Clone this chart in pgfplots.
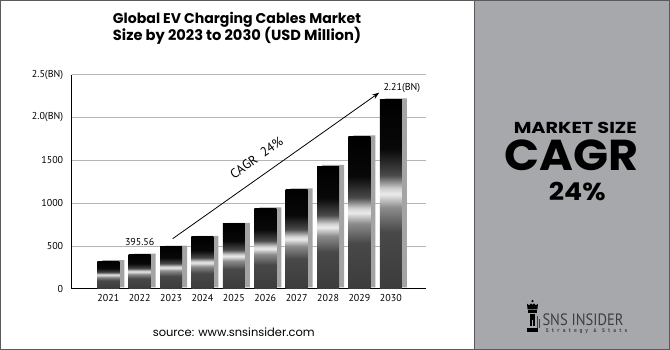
\documentclass[border=0pt]{standalone}
\usepackage{fontspec}
\usepackage{graphicx}
\usepackage{pgfplots}
\pgfplotsset{compat=1.18}
\usetikzlibrary{arrows.meta}
\setmainfont{PT Sans}
\newfontfamily\pop{Poppins}
\newfontfamily\mono{Liberation Mono}
\definecolor{panel}{HTML}{A7A8AB}
\definecolor{shadowc}{HTML}{A3A4A6}
\definecolor{gridc}{HTML}{B4B4B4}
\definecolor{frame}{HTML}{5A5A5A}
\definecolor{logoc}{HTML}{3E3E3E}
\definecolor{s1}{HTML}{3C3C3C}
\definecolor{s2}{HTML}{484848}
\definecolor{s3}{HTML}{8C8C8C}
\definecolor{s4}{HTML}{EBEBEB}
\definecolor{s5}{HTML}{D0D0D0}
\definecolor{s6}{HTML}{4A4A4A}
\definecolor{s7}{HTML}{080808}
\pgfdeclareverticalshading{barshade}{100bp}{color(0bp)=(s1); color(25bp)=(s1); color(40bp)=(s2); color(46.5bp)=(s3); color(50bp)=(s4); color(51.5bp)=(s5); color(55bp)=(s6); color(62bp)=(s7); color(75bp)=(black); color(100bp)=(black)}
\pgfplotsset{face/.style={ybar, bar width=22pt, bar shift=0pt, shading=barshade, draw=none}}
\begin{document}
\begin{tikzpicture}[x=1pt,y=1pt]
\useasboundingbox (0,0) rectangle (670,350);
\fill[white] (0,0) rectangle (670,350);
\fill[panel] (474.3,0) rectangle (670,350);
\draw[frame, line width=1pt] (474.3,0) -- (474.3,350);
\draw[frame, line width=1.4pt] (0.7,0.7) rectangle (669.3,349.3);
% title
\node at (237,330) {\resizebox{248pt}{!}{\pop\bfseries Global EV Charging Cables Market}};
\node at (237,313.8) {\resizebox{248pt}{!}{\pop\bfseries Size by 2023 to 2030 (USD Million)}};
% source
\node at (233.8,17.7) {\resizebox{162pt}{!}{\pop source: www.snsinsider.com}};
\begin{axis}[
  at={(71.7pt,61.3pt)}, anchor=south west,
  scale only axis, width=354.3pt, height=214pt,
  xmin=-1.166, xmax=10.12, ymin=0, ymax=2500,
  axis x line*=bottom, axis y line*=left,
  x axis line style={-}, y axis line style={-},
  axis line style={black, line width=0.9pt},
  xtick={0,...,9},
  xticklabels={2021,2022,2023,2024,2025,2026,2027,2028,2029,2030},
  ytick={0,500,1000,1500,2000,2500},
  yticklabels={0,500,1000,1500,2.0(BN),2.5(BN)},
  ymajorgrids, grid style={gridc, line width=0.7pt},
  major tick length=0pt, tick style={draw=none},
  /pgf/number format/assume math mode=true,
  ticklabel style={font=\fontsize{10}{12}\selectfont},
  yticklabel style={xshift=-5pt},
  xticklabel style={yshift=-2pt},
  clip=false,
]
\addplot[ybar, bar width=22pt, bar shift=5pt, fill=shadowc, draw=none, yshift=1.2pt]
  coordinates {(0,320) (1,395.56) (2,490) (3,604) (4,756) (5,935) (6,1157) (7,1433) (8,1776) (9,2210)};
\addplot[face] coordinates {(0,320)};
\addplot[face] coordinates {(1,395.56)};
\addplot[face] coordinates {(2,490)};
\addplot[face] coordinates {(3,604)};
\addplot[face] coordinates {(4,756)};
\addplot[face] coordinates {(5,935)};
\addplot[face] coordinates {(6,1157)};
\addplot[face] coordinates {(7,1433)};
\addplot[face] coordinates {(8,1776)};
\addplot[face] coordinates {(9,2210)};
\node[font=\fontsize{10}{12}\selectfont] at (axis cs:1,395.56) [yshift=13pt] {395.56};
\node[font=\fontsize{10}{12}\selectfont] at (axis cs:9,2210) [xshift=11pt, yshift=11pt] {2.21(BN)};
\draw[-{Stealth[length=7pt,width=5pt]}, line width=0.8pt] (axis cs:2.05,584) -- (axis cs:8.63,2290);
\node[rotate=35.2, font=\fontsize{13}{15}\selectfont] at (axis cs:4.72,1530) {CAGR\ \ 24\%};
\end{axis}
% right panel text
\node at (575.3,221.7) {\resizebox{123pt}{11.3pt}{\pop\bfseries MARKET SIZE}};
\node at (571.3,194.7) {\resizebox{134pt}{30.7pt}{\pop\bfseries CAGR}};
\node at (577.3,159) {\resizebox{56.7pt}{18.3pt}{\pop\bfseries 24\%}};
% logo
\fill[black] (532.5,48.8) circle (1.3);
\fill[black] (527.6,40.5) -- (527,46.3) -- (529.2,44.6) -- (530.9,46.6) -- (532.5,45.2) -- (534.1,46.6) -- (535.8,44.6) -- (538,46.3) -- (537.4,40.5) -- cycle;
\fill[black] (528.2,37.2) rectangle (536.8,39.6);
\fill[black] (529.6,24) rectangle (535.4,36.2);
\fill[panel] (531.8,21) rectangle (533.2,30);
\fill[black] (526.7,18.3) rectangle (538.3,21.5);
\fill[logoc] (537,21.5) rectangle (538.2,34);
\fill[logoc] (539.4,21.5) rectangle (540.4,31);
\node[anchor=west, inner sep=0] at (542.3,30.3) {\color{logoc}\resizebox{81pt}{11.7pt}{SNS INSIDER}};
\node[anchor=west, inner sep=0] at (545.7,18.6) {\color{logoc}\resizebox{81.6pt}{3.8pt}{\mono\bfseries S t r a t e g y\ \ \& \ S t a t s}};
\end{tikzpicture}
\end{document}
